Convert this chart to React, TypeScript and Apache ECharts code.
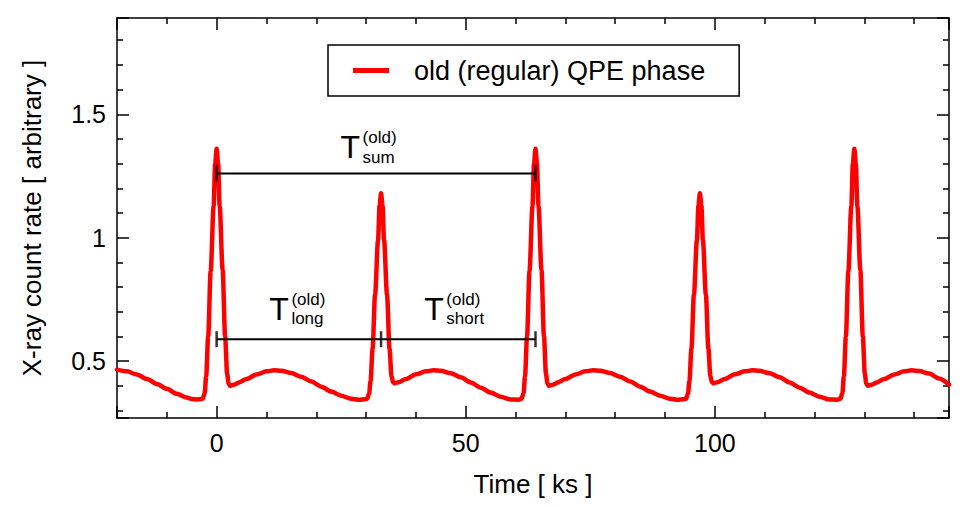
import React, { useEffect, useRef } from 'react';
import * as echarts from 'echarts';

// ---- data ----
const timeKs = [
  -20, -18, -16, -14, -12, -10, -8, -6, -5, -4, -3.2,
  -2.8, -2.4, -2.1, -1.7, -1.2, -0.6, -0.3, 0, 0.3, 0.6, 1.2, 1.7, 2.1, 2.4, 2.7,
  3.5, 4.5, 6, 8, 10, 11.5, 13, 15, 17, 19, 21, 23, 25, 27, 28.5, 29.8,
  30.2, 30.6, 30.9, 31.3, 31.8, 32.4, 32.7, 33, 33.3, 33.6, 34.2, 34.7, 35.1, 35.4, 35.7,
  36.5, 38, 40, 42, 43.5, 45, 47, 49, 51, 53, 55, 57, 59, 60.5, 60.8,
  61.2, 61.6, 61.9, 62.3, 62.8, 63.4, 63.7, 64, 64.3, 64.6, 65.2, 65.7, 66.1, 66.4, 66.7,
  67.5, 68.5, 70, 72, 74, 75.5, 77, 79, 81, 83, 85, 87, 89, 91, 92.5, 93.8,
  94.2, 94.6, 94.9, 95.3, 95.8, 96.4, 96.7, 97, 97.3, 97.6, 98.2, 98.7, 99.1, 99.4, 99.7,
  100.5, 102, 104, 106, 107.5, 109, 111, 113, 115, 117, 119, 121, 123, 124.5, 124.8,
  125.2, 125.6, 125.9, 126.3, 126.8, 127.4, 127.7, 128, 128.3, 128.6, 129.2, 129.7, 130.1, 130.4, 130.7,
  131.5, 132.5, 134, 136, 138, 139.5, 141, 143, 145, 147,
];

const countRate = [
  0.466, 0.459, 0.446, 0.428, 0.408, 0.388, 0.368, 0.353, 0.347, 0.345, 0.346,
  0.348, 0.37, 0.44, 0.6, 0.865, 1.13, 1.3, 1.36, 1.3, 1.13, 0.87, 0.6, 0.45, 0.41, 0.4,
  0.405, 0.414, 0.428, 0.446, 0.459, 0.463, 0.461, 0.452, 0.437, 0.418, 0.397, 0.377, 0.36, 0.348, 0.344, 0.346,
  0.348, 0.368, 0.42, 0.55, 0.77, 0.99, 1.13, 1.18, 1.13, 0.99, 0.77, 0.55, 0.44, 0.415, 0.41,
  0.415, 0.428, 0.447, 0.459, 0.463, 0.461, 0.451, 0.435, 0.414, 0.393, 0.373, 0.356, 0.345, 0.344, 0.345,
  0.348, 0.37, 0.44, 0.6, 0.865, 1.13, 1.3, 1.36, 1.3, 1.13, 0.87, 0.6, 0.45, 0.41, 0.4,
  0.405, 0.414, 0.428, 0.446, 0.459, 0.463, 0.461, 0.452, 0.437, 0.418, 0.397, 0.377, 0.36, 0.348, 0.344, 0.346,
  0.348, 0.368, 0.42, 0.55, 0.77, 0.99, 1.13, 1.18, 1.13, 0.99, 0.77, 0.55, 0.44, 0.415, 0.41,
  0.415, 0.428, 0.447, 0.459, 0.463, 0.461, 0.451, 0.435, 0.414, 0.393, 0.373, 0.356, 0.345, 0.344, 0.345,
  0.348, 0.37, 0.44, 0.6, 0.865, 1.13, 1.3, 1.36, 1.3, 1.13, 0.87, 0.6, 0.45, 0.41, 0.4,
  0.405, 0.414, 0.428, 0.446, 0.459, 0.463, 0.46, 0.45, 0.43, 0.405,
];

const seriesName = 'old (regular) QPE phase';
const xTitle = 'Time [ ks ]';
const yTitle = 'X-ray count rate [ arbitrary ]';
const xRange = [-20, 147];
const yRange = [0.27, 1.89];

// period bars (data coordinates)
const sumBar = [[0, 1.26], [64, 1.26]];
const splitBar = [[0, 0.589], [64, 0.589]];
const barCaps = [[0, 1.26], [64, 1.26], [0, 0.589], [33, 0.589], [64, 0.589]];

// period labels: T with superscript (old) and a subscript, anchored in data coordinates
const labelMain = 'T';
const labelSup = '(old)';
const labelSubs = ['sum', 'long', 'short'];
const labelX = [29.0, 14.7, 45.8];
const labelY = [1.366, 0.713, 0.713];

const FONT = '"Liberation Sans", Arial, Helvetica, sans-serif';

const fmtX = (v: number) => (Math.abs(v / 50 - Math.round(v / 50)) < 1e-9 ? String(v) : '');
const fmtY = (v: number) => (Math.abs(v * 2 - Math.round(v * 2)) < 1e-9 ? String(Math.round(v * 10) / 10) : '');

function axisBase() {
  return {
    type: 'value',
    axisLine: { show: true, onZero: false, lineStyle: { color: '#000', width: 1.5 } },
    axisTick: { show: true, inside: true, length: 12, lineStyle: { color: '#000', width: 1.5 } },
    minorTick: { show: true, splitNumber: 5, length: 6, lineStyle: { color: '#000', width: 1.5 } },
    splitLine: { show: false },
    minorSplitLine: { show: false },
    splitNumber: 3,
  };
}

export default function App() {
  const ref = useRef<HTMLDivElement>(null);

  useEffect(() => {
    document.body.style.margin = '0';
    if (!ref.current) return;
    const chart = echarts.init(ref.current, undefined, { renderer: 'svg' });

    const renderLabel = (params: any, api: any) => {
      const pt = api.coord([api.value(0), api.value(1)]);
      const sub = labelSubs[params.dataIndex];
      return {
        type: 'group',
        children: [
          {
            type: 'text', x: pt[0] - 1, y: pt[1],
            style: { text: labelMain, fontSize: 32, fontFamily: FONT, fill: '#000', align: 'right', verticalAlign: 'middle' },
          },
          {
            type: 'text', x: pt[0] + 1.5, y: pt[1] - 9.5,
            style: { text: labelSup, fontSize: 17, fontFamily: FONT, fill: '#000', align: 'left', verticalAlign: 'middle' },
          },
          {
            type: 'text', x: pt[0] + 1.5, y: pt[1] + 10,
            style: { text: sub, fontSize: 17, fontFamily: FONT, fill: '#000', align: 'left', verticalAlign: 'middle' },
          },
        ],
      };
    };

    chart.setOption({
      animation: false,
      textStyle: { fontFamily: FONT, color: '#000' },
      grid: { left: 117, right: 17, top: 18, bottom: 90, containLabel: false },
      legend: {
        data: [seriesName],
        left: 328, top: 45,
        padding: [12, 34, 12, 25],
        borderColor: '#000', borderWidth: 1.5,
        itemWidth: 36, itemHeight: 5, icon: 'rect',
        selectedMode: false,
        textStyle: { fontSize: 27, color: '#000', fontFamily: FONT, padding: [0, 0, 0, 20] },
      },
      xAxis: [
        {
          ...axisBase(), position: 'bottom', min: xRange[0], max: xRange[1],
          axisLabel: { fontSize: 25, color: '#000', margin: 12, formatter: fmtX, fontFamily: FONT },
          name: xTitle, nameLocation: 'middle', nameGap: 53,
          nameTextStyle: { fontSize: 26, color: '#000', fontFamily: FONT },
        },
        {
          ...axisBase(), position: 'top', min: xRange[0], max: xRange[1],
          axisLabel: { show: false },
        },
      ],
      yAxis: [
        {
          ...axisBase(), position: 'left', min: yRange[0], max: yRange[1],
          axisLabel: { fontSize: 25, color: '#000', margin: 11, formatter: fmtY, fontFamily: FONT },
          name: yTitle, nameLocation: 'middle', nameGap: 72, nameRotate: 90,
          nameTextStyle: { fontSize: 26, color: '#000', fontFamily: FONT },
        },
        {
          ...axisBase(), position: 'right', min: yRange[0], max: yRange[1],
          axisLabel: { show: false },
        },
      ],
      series: [
        {
          type: 'line', name: seriesName,
          data: timeKs.map((t, i) => [t, countRate[i]]),
          showSymbol: false, symbol: 'none',
          smooth: 0.3, smoothMonotone: 'x',
          lineStyle: { color: '#ff0000', width: 4.5, cap: 'round', join: 'round' },
          itemStyle: { color: '#ff0000' },
          silent: true, z: 2,
        },
        {
          type: 'line', data: sumBar, showSymbol: false, symbol: 'none',
          lineStyle: { color: '#000', width: 2 }, silent: true, z: 3,
        },
        {
          type: 'line', data: splitBar, showSymbol: false, symbol: 'none',
          lineStyle: { color: '#000', width: 2 }, silent: true, z: 3,
        },
        {
          type: 'scatter', data: barCaps, symbol: 'rect', symbolSize: [2.5, 16],
          itemStyle: { color: '#000' }, silent: true, z: 4,
        },
        {
          type: 'custom', data: labelX.map((x, i) => [x, labelY[i]]),
          renderItem: renderLabel, silent: true, z: 5,
        },
      ],
    });

    return () => chart.dispose();
  }, []);

  return <div ref={ref} style={{ width: 966, height: 508 }} />;
}
